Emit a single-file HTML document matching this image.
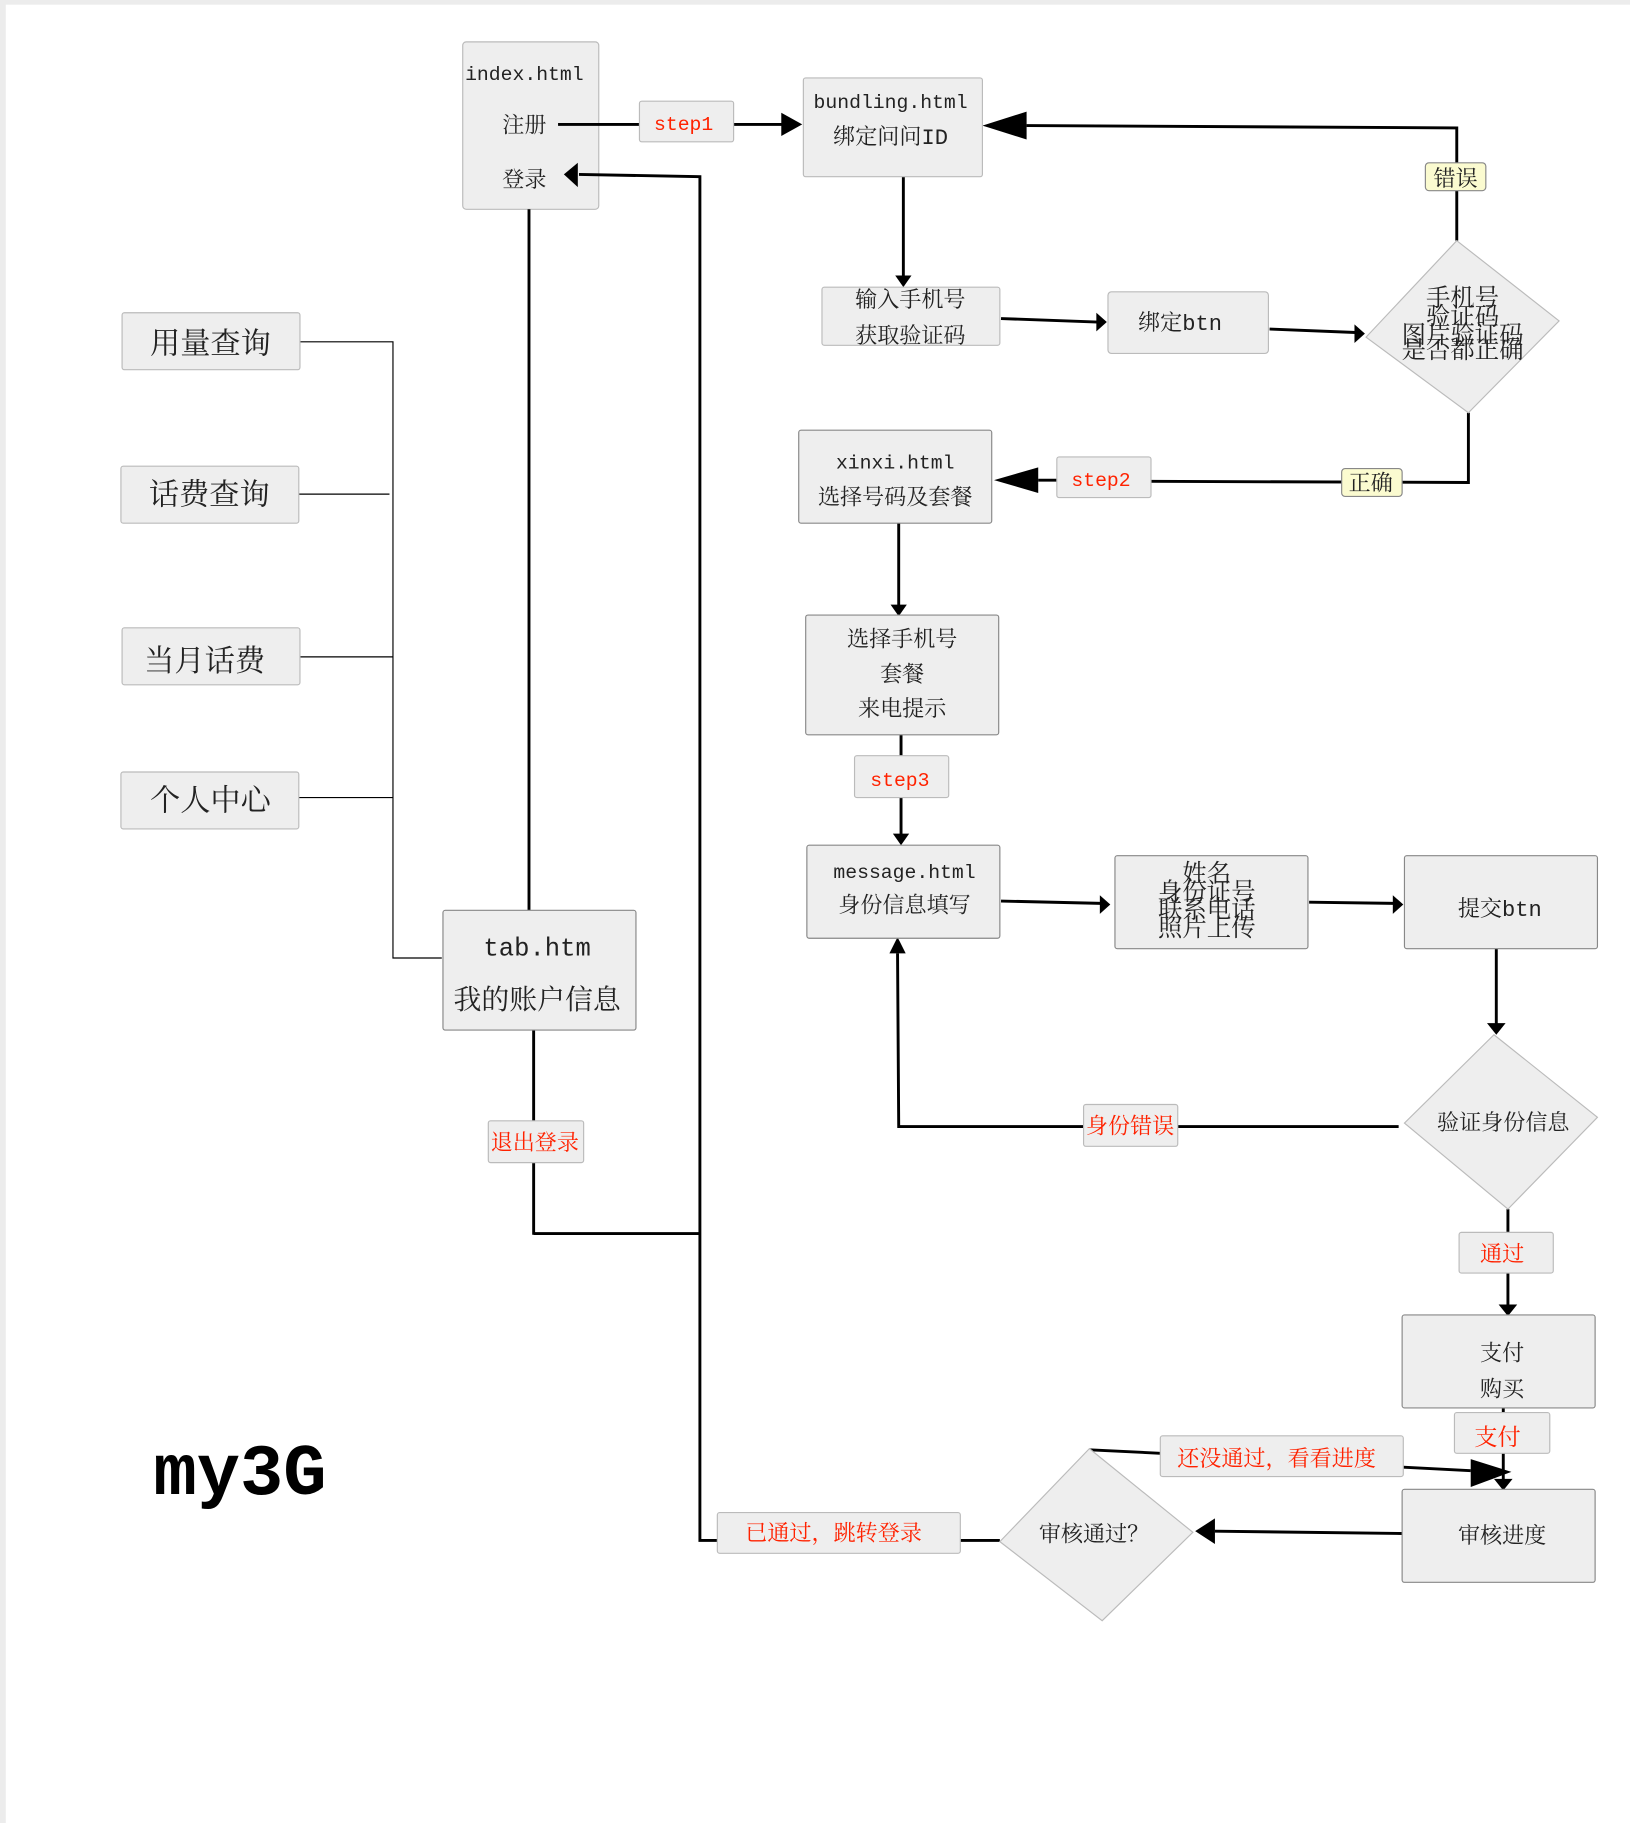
<!DOCTYPE html>
<html><head><meta charset="utf-8"><style>
html,body{margin:0;padding:0;background:#fff;}
svg{display:block;}
text{font-family:"Liberation Mono","Noto Serif CJK SC",serif;fill:#222;text-anchor:middle;}
.r{fill:#f20;}
.b{fill:#eee;stroke:#bbb;stroke-width:1;}
.bd{fill:#eee;stroke:#888;stroke-width:1;}
.y{fill:#fbfbd0;stroke:#888;stroke-width:1;}
.l{stroke:#000;stroke-width:2.5;fill:none;}
.t{stroke:#000;stroke-width:1;fill:none;}
</style></head><body>
<svg width="1630" height="1823" viewBox="0 0 1402 1568" xmlns="http://www.w3.org/2000/svg">
<rect x="0" y="0" width="1402" height="4" fill="#ececec"/>
<rect x="0" y="0" width="5" height="1568" fill="#ececec"/>

<!-- left menu -->
<g class="t">
<path d="M258 294H338V824H380"/><path d="M256 425H335"/><path d="M258 565H338"/><path d="M256 686H338"/>
</g>
<rect class="b" x="105" y="269" width="153" height="49" rx="2"/><text x="181" y="304" font-size="26">用量查询</text>
<rect class="b" x="104" y="401" width="153" height="49" rx="2"/><text x="180" y="434" font-size="26">话费查询</text>
<rect class="b" x="105" y="540" width="153" height="49" rx="2"/><text x="176" y="577" font-size="26">当月话费</text>
<rect class="b" x="104" y="664" width="153" height="49" rx="2"/><text x="181" y="697" font-size="26">个人中心</text>

<!-- index -->
<rect class="b" x="398" y="36" width="117" height="144" rx="3"/>
<text x="451" y="69" font-size="17">index.html</text>
<text x="451" y="114" font-size="19">注册</text>
<text x="451" y="161" font-size="19">登录</text>

<!-- connectors -->
<g class="l">
<path d="M480 107H550"/><path d="M631 107H676"/>
<path d="M1253 207V110L883 108"/>
<path d="M777 152V238"/>
<path d="M861 274L944 277"/>
<path d="M1092 283L1166 286"/>
<path d="M1263 355V415L990 414"/><path d="M909 413H893"/>
<path d="M773 450V521"/>
<path d="M775 632V650"/><path d="M775 686V718"/>
<path d="M861 775L947 777"/>
<path d="M1126 776L1199 777"/>
<path d="M1287 816V882"/>
<path d="M1203 969H1013"/><path d="M932 969H773L772 820"/>
<path d="M1297 1040V1060"/><path d="M1297 1095V1124"/>
<path d="M1293 1211V1215"/><path d="M1293 1250V1274"/>
<path d="M1206 1319L1045 1317"/>
<path d="M937 1247L998 1250"/><path d="M1207 1262L1265 1265"/>
<path d="M860 1325H826"/><path d="M617 1325H602V152L498 150"/>
<path d="M455 180V783"/>
<path d="M459 886V964"/><path d="M459 1000V1062"/><path d="M459 1061H602"/>
</g>
<g fill="#000">
<polygon points="690,107 672,97 672,117"/>
<polygon points="845,108 883,96 883,120"/>
<polygon points="777,247 770,237 784,237"/>
<polygon points="952,277 943,269 943,285"/>
<polygon points="1174,287 1165,279 1165,295"/>
<polygon points="855,413 893,402 893,424"/>
<polygon points="773,530 766,520 780,520"/>
<polygon points="775,727 768,717 782,717"/>
<polygon points="955,778 946,770 946,786"/>
<polygon points="1207,778 1198,770 1198,786"/>
<polygon points="1287,890 1279,880 1295,880"/>
<polygon points="772,806 765,820 779,820"/>
<polygon points="1297,1132 1289,1122 1305,1122"/>
<polygon points="1293,1282 1285,1272 1301,1272"/>
<polygon points="1028,1317 1045,1306 1045,1328"/>
<polygon points="1300,1266 1265,1255 1265,1279"/>
<polygon points="485,150 497,140 497,161"/>
</g>

<rect class="b" x="550" y="87" width="81" height="35" rx="2"/><text class="r" x="588" y="112" font-size="17">step1</text>

<rect class="b" x="691" y="67" width="154" height="85" rx="2"/>
<text x="766" y="93" font-size="17">bundling.html</text>
<text x="766" y="124" font-size="19">绑定问问ID</text>
<rect class="y" x="1226" y="140" width="52" height="24" rx="3"/><text x="1252" y="160" font-size="19">错误</text>

<rect class="b" x="707" y="247" width="153" height="50" rx="2"/>
<text x="783" y="264" font-size="19">输入手机号</text><text x="783" y="295" font-size="19">获取验证码</text>
<rect class="b" x="953" y="251" width="138" height="53" rx="3"/><text x="1015" y="284" font-size="19">绑定btn</text>

<polygon class="b" points="1253,207 1341,276 1263,355 1175,290"/>
<text x="1258" y="263" font-size="21">手机号</text>
<text x="1258" y="279" font-size="21">验证码</text>
<text x="1258" y="295" font-size="21">图片验证码</text>
<text x="1258" y="308" font-size="21">是否都正确</text>

<rect class="y" x="1154" y="403" width="52" height="24" rx="3"/><text x="1179" y="422" font-size="19">正确</text>
<rect class="b" x="909" y="393" width="81" height="35" rx="2"/><text class="r" x="947" y="418" font-size="17">step2</text>

<rect class="bd" x="687" y="370" width="166" height="80" rx="2"/>
<text x="770" y="403" font-size="17">xinxi.html</text><text x="770" y="434" font-size="19">选择号码及套餐</text>

<rect class="bd" x="693" y="529" width="166" height="103" rx="2"/>
<text x="776" y="556" font-size="19">选择手机号</text><text x="776" y="586" font-size="19">套餐</text><text x="776" y="616" font-size="19">来电提示</text>
<rect class="b" x="735" y="650" width="81" height="36" rx="2"/><text class="r" x="774" y="676" font-size="17">step3</text>

<rect class="bd" x="694" y="727" width="166" height="80" rx="2"/>
<text x="778" y="755" font-size="17">message.html</text><text x="778" y="785" font-size="19">身份信息填写</text>

<rect class="bd" x="959" y="736" width="166" height="80" rx="2"/>
<text x="1038" y="758" font-size="21">姓名</text>
<text x="1038" y="774" font-size="21">身份证号</text>
<text x="1038" y="789" font-size="21">联系电话</text>
<text x="1038" y="805" font-size="21">照片上传</text>

<rect class="bd" x="1208" y="736" width="166" height="80" rx="2"/><text x="1290" y="788" font-size="19">提交btn</text>

<polygon class="b" points="1285,890 1374,961 1297,1040 1208,966"/>
<text x="1293" y="972" font-size="19">验证身份信息</text>
<rect class="b" x="932" y="950" width="81" height="36" rx="2"/><text class="r" x="972" y="975" font-size="19">身份错误</text>
<rect class="b" x="1255" y="1060" width="81" height="35" rx="2"/><text class="r" x="1292" y="1085" font-size="19">通过</text>

<rect class="bd" x="1206" y="1131" width="166" height="80" rx="2"/>
<text x="1292" y="1170" font-size="19">支付</text><text x="1292" y="1201" font-size="19">购买</text>
<rect class="b" x="1251" y="1215" width="82" height="35" rx="2"/><text class="r" x="1288" y="1243" font-size="20">支付</text>

<rect class="bd" x="1206" y="1281" width="166" height="80" rx="2"/><text x="1292" y="1327" font-size="19">审核进度</text>

<polygon class="b" points="937,1246 1026,1318 948,1394 860,1326"/>
<text x="941" y="1326" font-size="19">审核通过？</text>
<rect class="b" x="998" y="1235" width="209" height="35" rx="2"/><text class="r" x="1098" y="1261" font-size="19">还没通过，看看进度</text>
<rect class="b" x="617" y="1301" width="209" height="35" rx="2"/><text class="r" x="717" y="1325" font-size="19">已通过，跳转登录</text>

<rect class="bd" x="381" y="783" width="166" height="103" rx="2"/>
<text x="462" y="822" font-size="22">tab.htm</text><text x="462" y="868" font-size="24">我的账户信息</text>
<rect class="b" x="420" y="964" width="82" height="36" rx="2"/><text class="r" x="460" y="989" font-size="19">退出登录</text>

<text x="132" y="1285" font-size="62" font-weight="bold" style="font-family:'Liberation Mono',monospace;fill:#000;text-anchor:start">my3G</text>
</svg>
</body></html>
